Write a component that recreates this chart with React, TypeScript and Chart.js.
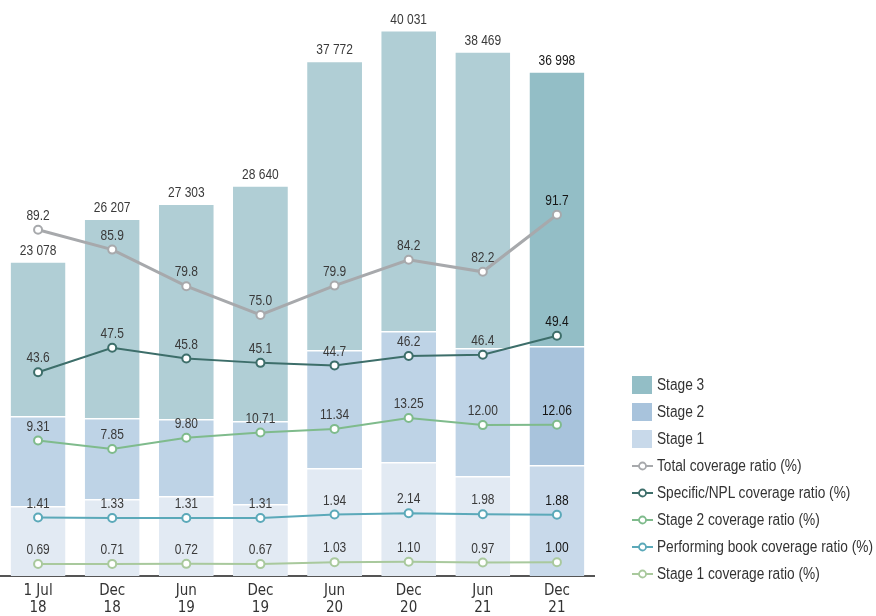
import React, { useEffect, useRef } from "react";
import { Chart, registerables } from "chart.js";

Chart.register(...registerables);

const categories: string[][] = [
  ["1 Jul", "18"], ["Dec", "18"], ["Jun", "19"], ["Dec", "19"],
  ["Jun", "20"], ["Dec", "20"], ["Jun", "21"], ["Dec", "21"],
];

const totals = [23078, 26207, 27303, 28640, 37772, 40031, 38469, 36998];
const stage1 = [5132, 5645, 5865, 5279, 7918, 8358, 7331, 8138];
const stage2 = [6598, 5938, 5645, 6085, 8651, 9604, 9384, 8724];
const stage3 = totals.map((t, i) => t - stage1[i] - stage2[i]);

const totalCoverage = [89.2, 85.9, 79.8, 75.0, 79.9, 84.2, 82.2, 91.7];
const specificCoverage = [43.6, 47.5, 45.8, 45.1, 44.7, 46.2, 46.4, 49.4];
const stage2Coverage = [9.31, 7.85, 9.8, 10.71, 11.34, 13.25, 12.0, 12.06];
const performingCoverage = [1.41, 1.33, 1.31, 1.31, 1.94, 2.14, 1.98, 1.88];
const stage1Coverage = [0.69, 0.71, 0.72, 0.67, 1.03, 1.1, 0.97, 1.0];

const FONT = "'Liberation Sans', Arial, sans-serif";
const TICK_FONT = "'DejaVu Sans Condensed', 'Liberation Sans', sans-serif";
const SQUEEZE = 0.8;

const S3 = "#b0ced5", S3D = "#93bec6";
const S2 = "#bed3e6", S2D = "#a8c3dc";
const S1 = "#e2eaf3", S1D = "#c8d9ea";

const C_TOTAL = "#a7a9ac";
const C_SPEC = "#3d6e6a";
const C_S2 = "#7fbb8c";
const C_PERF = "#5ba9b9";
const C_S1 = "#a9c99d";

const lastDark = (light: string, dark: string) => categories.map((_, i) => (i === categories.length - 1 ? dark : light));

const fmtThousands = (v: number) => String(v).replace(/\B(?=(\d{3})+(?!\d))/g, " ");

const drawSqueezed = (ctx: CanvasRenderingContext2D, text: string, x: number, y: number) => {
  ctx.save();
  ctx.translate(x, y);
  ctx.scale(SQUEEZE, 1);
  ctx.fillText(text, 0, 0);
  ctx.restore();
};

const labelPlugin = {
  id: "valueLabels",
  afterDatasetsDraw(chart: any) {
    const ctx = chart.ctx;
    ctx.save();
    ctx.font = `15px ${FONT}`;
    ctx.textAlign = "center";
    chart.data.datasets.forEach((ds: any, di: number) => {
      const meta = chart.getDatasetMeta(di);
      if (ds.label === "Stage 3") {
        ctx.textBaseline = "bottom";
        meta.data.forEach((el: any, i: number) => {
          ctx.fillStyle = i === totals.length - 1 ? "#151515" : "#3a3a3a";
          drawSqueezed(ctx, fmtThousands(totals[i]), el.x, el.y - 3);
        });
      } else if (ds.type === "line") {
        ctx.textBaseline = "middle";
        meta.data.forEach((el: any, i: number) => {
          ctx.fillStyle = i === ds.data.length - 1 ? "#151515" : "#3a3a3a";
          drawSqueezed(ctx, Number(ds.data[i]).toFixed(ds.decimals), el.x, el.y - 14);
        });
      }
    });
    ctx.restore();
  },
};

const legendItems = [
  { label: "Stage 3", kind: "box", color: S3D },
  { label: "Stage 2", kind: "box", color: S2D },
  { label: "Stage 1", kind: "box", color: S1D },
  { label: "Total coverage ratio (%)", kind: "line", color: C_TOTAL },
  { label: "Specific/NPL coverage ratio (%)", kind: "line", color: C_SPEC },
  { label: "Stage 2 coverage ratio (%)", kind: "line", color: C_S2 },
  { label: "Performing book coverage ratio (%)", kind: "line", color: C_PERF },
  { label: "Stage 1 coverage ratio (%)", kind: "line", color: C_S1 },
];

const zeroPad = (scale: any) => {
  scale.paddingLeft = 0;
  scale.paddingRight = 0;
  scale.paddingTop = 0;
  scale.paddingBottom = 0;
};

export default function App() {
  const ref = useRef<HTMLCanvasElement>(null);

  useEffect(() => {
    if (!ref.current) return;
    const lineDs = (label: string, data: number[], color: string, axis: string, decimals: number, width: number) => ({
      type: "line" as const,
      label,
      data,
      yAxisID: axis,
      borderColor: color,
      borderWidth: width,
      pointRadius: 4,
      pointBorderWidth: 2,
      pointBackgroundColor: "#ffffff",
      pointBorderColor: color,
      tension: 0,
      order: 1,
      clip: false,
      decimals,
    });
    const barDs = (label: string, data: number[], light: string, dark: string) => ({
      type: "bar" as const,
      label,
      data,
      yAxisID: "y",
      backgroundColor: lastDark(light, dark),
      borderColor: "#ffffff",
      borderWidth: { top: 1.5, left: 0, right: 0, bottom: 0 },
      borderSkipped: false,
      barPercentage: 0.74,
      categoryPercentage: 1,
      order: 10,
    });
    const hidden = (min: number, max: number, stacked = false) => ({
      display: false,
      stacked,
      min,
      max,
      ticks: { display: false },
      afterFit: zeroPad,
    });
    const chart = new Chart(ref.current, {
      data: {
        labels: categories,
        datasets: [
          barDs("Stage 1", stage1, S1, S1D),
          barDs("Stage 2", stage2, S2, S2D),
          barDs("Stage 3", stage3, S3, S3D),
          lineDs("Total coverage ratio (%)", totalCoverage, C_TOTAL, "yTotal", 1, 3),
          lineDs("Specific/NPL coverage ratio (%)", specificCoverage, C_SPEC, "ySpec", 1, 2),
          lineDs("Stage 2 coverage ratio (%)", stage2Coverage, C_S2, "yS2", 2, 2),
          lineDs("Performing book coverage ratio (%)", performingCoverage, C_PERF, "yPerf", 2, 2),
          lineDs("Stage 1 coverage ratio (%)", stage1Coverage, C_S1, "yS1", 2, 2),
        ] as any,
      },
      options: {
        animation: false,
        responsive: false,
        maintainAspectRatio: false,
        layout: { autoPadding: false, padding: { left: 1, right: 282, top: 0, bottom: 0 } },
        plugins: { legend: { display: false }, tooltip: { enabled: false } },
        scales: {
          x: {
            stacked: true,
            grid: { display: false, drawTicks: false },
            border: { display: true, color: "#555555", width: 2 },
            ticks: { font: { family: TICK_FONT, size: 15, lineHeight: 1.1 }, color: "#333333", padding: 7, maxRotation: 0, autoSkip: false },
            afterFit: (scale: any) => {
              zeroPad(scale);
              scale.height = 40;
            },
          },
          y: hidden(0, 42229, true),
          yTotal: hidden(31.5, 127.5),
          ySpec: hidden(11.27, 102.7),
          yS2: hidden(-14.24, 85.93),
          yPerf: hidden(-8.86, 92.19),
          yS1: hidden(-1.49, 103.2),
        },
      } as any,
      plugins: [labelPlugin],
    });
    return () => chart.destroy();
  }, []);

  return (
    <div style={{ position: "fixed", left: 0, top: 0, width: 876, height: 616, background: "#fff" }}>
      <canvas ref={ref} width={876} height={616} style={{ position: "absolute", left: 0, top: 0, width: 876, height: 616 }} />
      <div style={{ position: "absolute", left: 632, top: 371, fontFamily: FONT, fontSize: 16, color: "#333" }}>
        {legendItems.map((it) => (
          <div key={it.label} style={{ display: "flex", alignItems: "center", height: 27, whiteSpace: "nowrap" }}>
            <svg width={21} height={20} style={{ marginRight: 4, flex: "none" }}>
              {it.kind === "box" ? (
                <rect x={0} y={1} width={20} height={18} fill={it.color} />
              ) : (
                <g>
                  <line x1={0} y1={10} x2={21} y2={10} stroke={it.color} strokeWidth={2} />
                  <circle cx={10.5} cy={10} r={3.5} fill="#fff" stroke={it.color} strokeWidth={1.8} />
                </g>
              )}
            </svg>
            <span style={{ display: "inline-block", transform: "scaleX(0.855)", transformOrigin: "left center" }}>{it.label}</span>
          </div>
        ))}
      </div>
    </div>
  );
}
